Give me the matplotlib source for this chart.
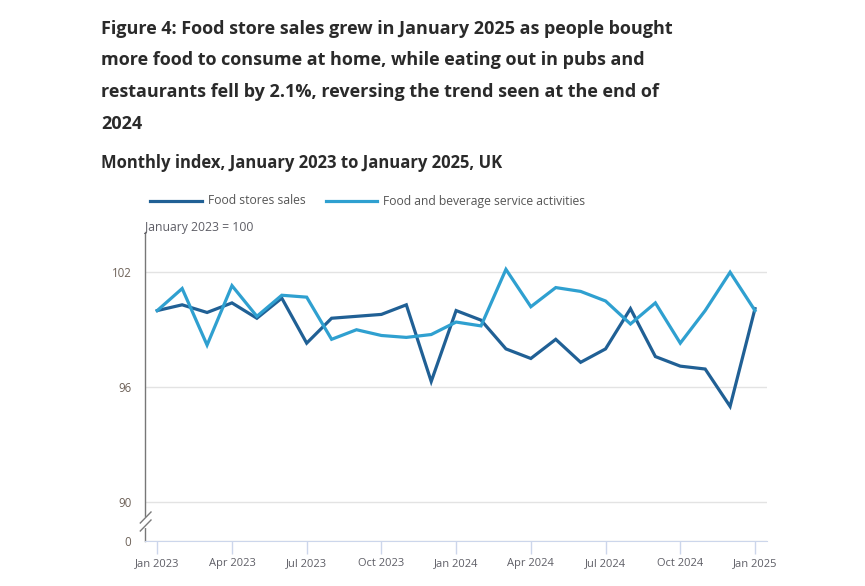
import matplotlib

matplotlib.use("Agg")
import matplotlib.pyplot as plt
import numpy as np

plt.rcParams["font.family"] = ["Open Sans", "DejaVu Sans"]

# Monthly index, January 2023 = 100
food_stores = [100.0, 100.3, 99.9, 100.4, 99.6, 100.65, 98.3, 99.6, 99.7, 99.8, 100.3, 96.3,
               100.0, 99.5, 98.0, 97.5, 98.5, 97.3, 98.0, 100.1, 97.6, 97.1, 96.95, 95.0, 100.1]
food_beverage = [100.0, 101.15, 98.2, 101.3, 99.7, 100.8, 100.7, 98.5, 99.0, 98.7, 98.6, 98.75,
                 99.4, 99.2, 102.15, 100.2, 101.2, 101.0, 100.5, 99.3, 100.4, 98.3, 100.0, 102.0, 100.0]
series_names = ["Food stores sales", "Food and beverage service activities"]
series_colors = ["#206095", "#2fa0d0"]

tick_months = [0, 3, 6, 9, 12, 15, 18, 21, 24]
tick_labels = ["Jan 2023", "Apr 2023", "Jul 2023", "Oct 2023", "Jan 2024",
               "Apr 2024", "Jul 2024", "Oct 2024", "Jan 2025"]

y_ticks = [90, 96, 102]
y_zero_pos = 87.96  # where the broken axis shows 0

W, H = 865, 586
fig = plt.figure(figsize=(W / 100, H / 100), dpi=100)


def px(x, y):
    return x / W, 1 - y / H


title_lines = [
    "Figure 4: Food store sales grew in January 2025 as people bought",
    "more food to consume at home, while eating out in pubs and",
    "restaurants fell by 2.1%, reversing the trend seen at the end of",
    "2024",
]
for i, line in enumerate(title_lines):
    fig.text(*px(101, 33.5 + i * 31.7), line, fontsize=13, fontweight="bold",
             color="#2a2a2a", va="baseline")
fig.text(*px(101, 168.5), "Monthly index, January 2023 to January 2025, UK",
         fontsize=12, fontweight="bold", color="#2a2a2a", va="baseline")

ax = fig.add_axes([145.3 / W, 1 - 541.3 / H, (766.7 - 145.3) / W, (541.3 - 232) / H])
months = np.arange(len(food_stores))
ax.plot(months, food_stores, color=series_colors[0], lw=2.3, label=series_names[0],
        solid_joinstyle="miter", zorder=3)
ax.plot(months, food_beverage, color=series_colors[1], lw=2.3, label=series_names[1],
        solid_joinstyle="miter", zorder=3)

ax.set_xlim(-0.48, 24.47)
ax.set_ylim(y_zero_pos, 104.1)
ax.set_xticks(tick_months)
ax.set_xticklabels(tick_labels)
ax.set_yticks([y_zero_pos] + y_ticks)
ax.set_yticklabels(["0"] + [str(v) for v in y_ticks])
ax.tick_params(axis="x", length=9, width=1, color="#ccd6eb", labelsize=8,
               labelcolor="#5e5e66", pad=3)
ax.tick_params(axis="y", length=0, labelsize=8.3, labelcolor="#6e6259", pad=10)
ax.grid(axis="y", color="#e3e3e3", lw=1)
ax.set_axisbelow(True)
for s in ["top", "right"]:
    ax.spines[s].set_visible(False)
ax.spines["bottom"].set_color("#ccd6eb")
ax.spines["left"].set_color("#777777")
ax.spines["left"].set_linewidth(1)

# axis break marks on the y axis
fig.add_artist(plt.Line2D(*zip(px(145.3, 519), px(145.3, 526)), color="white", lw=3))
for y0 in (523, 531):
    fig.add_artist(plt.Line2D(*zip(px(140.3, y0), px(151, y0 - 11)), color="#7a7a7a", lw=1))

fig.text(*px(145, 231), "January 2023 = 100", fontsize=8.8, color="#5e5e66", va="baseline")

# legend
for (x0, x1, tx), name, col in zip([(150, 202, 208), (326, 377, 383)], series_names, series_colors):
    fig.add_artist(plt.Line2D(*zip(px(x0, 201), px(x1, 201)), color=col, lw=2.3))
    fig.text(*px(tx, 201), name, fontsize=8.7, color="#555555", va="center")

fig.savefig("out.png", dpi=100)
